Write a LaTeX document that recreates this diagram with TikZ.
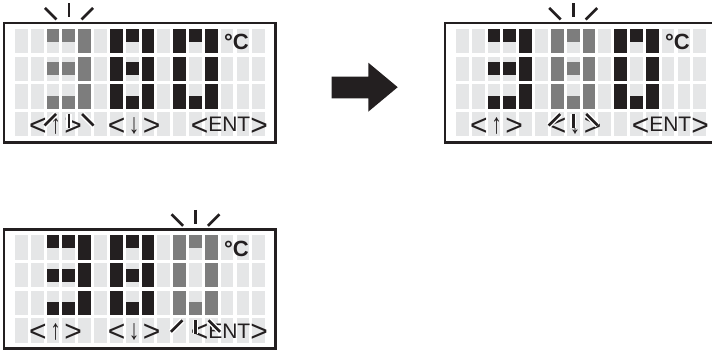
\documentclass[tikz,border=0pt]{standalone}
\usepackage{fontspec}
\setmainfont{Liberation Sans}
\definecolor{lcdblack}{HTML}{231F20}
\definecolor{lcdgrey}{HTML}{7D7D7D}
\definecolor{lcdoff}{HTML}{E5E6E7}
\tikzset{
  lcdframe/.style={draw=lcdblack, line width=2.8pt},
  keytext/.style={font=\fontsize{21}{21}\selectfont, anchor=base, inner sep=0pt, text=lcdblack},
  unittext/.style={font=\bfseries\fontsize{22}{22}\selectfont, anchor=base, inner sep=0pt, text=lcdblack},
  blinkhalo/.style={draw=white, line width=5.5pt},
  blinkline/.style={draw=lcdblack, line width=2.7pt},
  bigarrow/.style={fill=lcdblack},
}
\newcommand\ltsign{\raisebox{-3.6pt}{\fontsize{30}{30}\selectfont<}}
\newcommand\gtsign{\raisebox{-3.6pt}{\fontsize{30}{30}\selectfont>}}
\newcommand\uparr{\raisebox{-1.6pt}{\scalebox{1}[1.35]{↑}}}
\newcommand\downarr{\raisebox{-1.6pt}{\scalebox{1}[1.35]{↓}}}
\newcommand\lcdcell[3]{\fill[#3] ({15+15.83*(#1)},{29+27.6*(#2)}) rectangle ++(12.7,24.5);}
\newcommand\lcdsq[4]{\fill[#4] ({15+15.83*(#1)},{29+27.6*(#2)+#3}) rectangle ++(12.7,12.7);}
\newcommand\digitthree[2]{%
  \foreach \k in {0,1}{\lcdsq{#1+\k}{0}{0}{#2}\lcdsq{#1+\k}{1}{5.9}{#2}\lcdsq{#1+\k}{2}{11.8}{#2}}
  \foreach \rr in {0,1,2}{\lcdcell{#1+2}{\rr}{#2}}}
\newcommand\digiteight[2]{%
  \foreach \rr in {0,1,2}{\lcdcell{#1}{\rr}{#2}\lcdcell{#1+2}{\rr}{#2}}
  \lcdsq{#1+1}{0}{0}{#2}\lcdsq{#1+1}{1}{5.9}{#2}\lcdsq{#1+1}{2}{11.8}{#2}}
\newcommand\digitzero[2]{%
  \foreach \rr in {0,1,2}{\lcdcell{#1}{\rr}{#2}\lcdcell{#1+2}{\rr}{#2}}
  \lcdsq{#1+1}{0}{0}{#2}\lcdsq{#1+1}{2}{11.8}{#2}}
\newcommand\blinkstroke[2]{\draw[blinkhalo] #1 -- #2; \draw[blinkline] #1 -- #2;}
\newcommand\blinkat[1]{%
  \blinkstroke{({#1-24},8)}{({#1-12.5},19.5)}
  \blinkstroke{(#1,3.5)}{(#1,17.5)}
  \blinkstroke{({#1+24},8)}{({#1+12.5},19.5)}
  \blinkstroke{({#1-24.5},125.5)}{({#1-13},114)}
  \blinkstroke{(#1,114)}{(#1,128)}
  \blinkstroke{({#1+24.5},125.5)}{({#1+13},114)}}
\newcommand\lcdpanel[7]{%
  \begin{scope}[shift={(#2,#3)}]
    \draw[lcdframe] (4,23) rectangle (275.3,142.5);
    \foreach \c in {0,...,15}{\foreach \r in {0,...,3}{\lcdcell{\c}{\r}{lcdoff}}}
    \digitthree{2}{#4}
    \digiteight{6}{#5}
    \digitzero{10}{#6}
    \node[unittext] (#1deg) at (236.5,50) {°C};
    \node[keytext] (#1up) at (55.5,131.7) {\ltsign\kern3.5pt\uparr\kern3.5pt\gtsign};
    \node[keytext] (#1down) at (134.2,131.7) {\ltsign\kern3.5pt\downarr\kern3.5pt\gtsign};
    \node[keytext] (#1ent) at (229.3,131.7) {\ltsign ENT\gtsign};
    \blinkat{#7}
  \end{scope}}
\begin{document}
\begin{tikzpicture}[x=1pt,y=-1pt]
  \useasboundingbox (0,0) rectangle (712,350);
  \lcdpanel{a}{0}{0}{lcdgrey}{lcdblack}{lcdblack}{69}
  \lcdpanel{b}{441}{0}{lcdblack}{lcdgrey}{lcdblack}{132.2}
  \lcdpanel{c}{0}{206.3}{lcdblack}{lcdblack}{lcdgrey}{195.5}
  \fill[bigarrow] (331.7,76.7) -- (368.3,76.7) -- (368.3,62.7) -- (397.7,87.2)
    -- (368.3,111.7) -- (368.3,98.3) -- (331.7,98.3) -- cycle;
\end{tikzpicture}
\end{document}
